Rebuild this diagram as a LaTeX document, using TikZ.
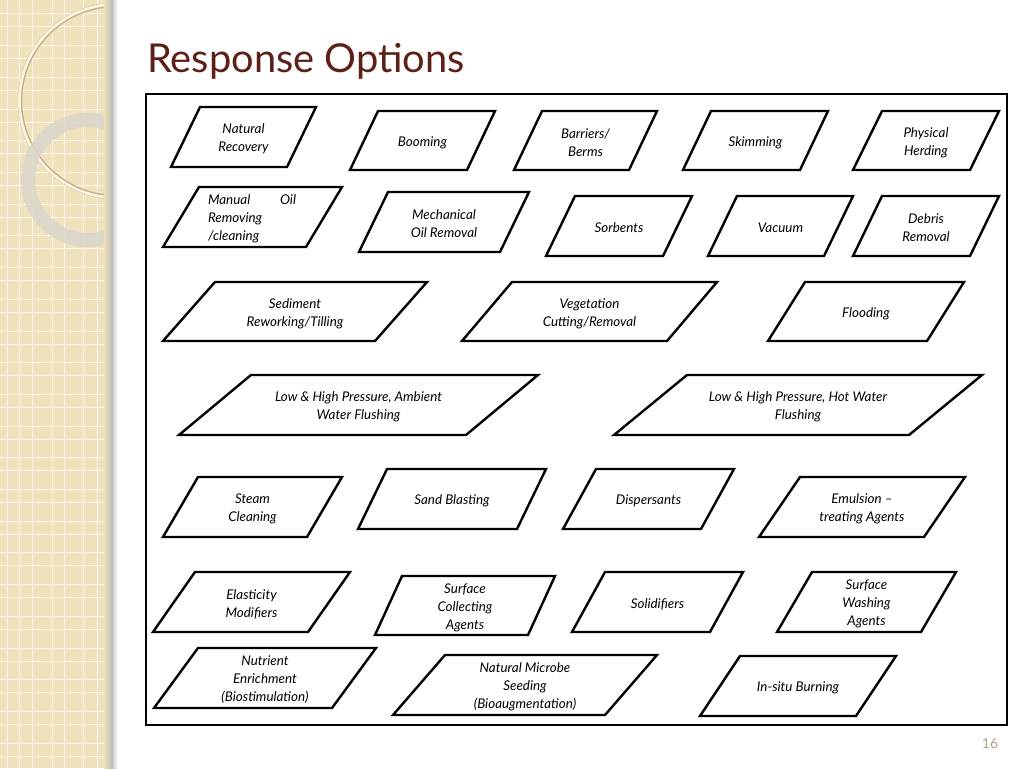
\documentclass[tikz,border=0pt]{standalone}
\usepackage{fontspec}
\setmainfont{Lato}
\definecolor{sidebarbg}{RGB}{240,226,188}
\definecolor{ringcream}{RGB}{248,242,224}
\definecolor{ringedge}{RGB}{196,176,136}
\definecolor{ringgray}{RGB}{218,214,204}
\definecolor{titlebrown}{RGB}{92,32,22}
\definecolor{pagetan}{RGB}{178,164,138}
\tikzset{
  optbox/.style={line width=2.4pt, line join=miter, fill=white},
  opttext/.style={align=center, font=\fontsize{13.4}{18}\selectfont\itshape, inner sep=0pt, yshift=-2pt}
}
\begin{document}
\begin{tikzpicture}[x=1pt, y=-1pt]
  \useasboundingbox (0,0) rectangle (1024,768);
  % 背景
  \fill[white] (0,0) rectangle (1024,768);
  \fill[sidebarbg] (0,0) rectangle (113,768);
  \foreach \x in {7,19,32,52,64,83,97} {
    \draw[white!70!sidebarbg, line width=1pt] (\x,0) -- (\x,768);
  }
  \foreach \k in {0,...,24} {
    \draw[white!70!sidebarbg, line width=1pt] (0,14+31.7*\k) -- (113,14+31.7*\k);
    \draw[white!70!sidebarbg, line width=1pt] (0,27+31.7*\k) -- (113,27+31.7*\k);
  }
  % 円の飾り
  \begin{scope}
    \clip (0,0) rectangle (113,768);
    \draw[ringedge, line width=4.5pt] (116,101) circle (96pt);
    \draw[ringcream, line width=2.8pt] (116,101) circle (96.6pt);
    \draw[ringgray, line width=14pt, opacity=0.85] (88,180) circle (60pt);
  \end{scope}
  \shade[left color=sidebarbg, right color=black!28] (104,0) rectangle (113,768);
  \shade[left color=black!18, right color=white] (113,0) rectangle (118,768);

  % タイトル
  \node[anchor=base west, inner sep=0pt, text=titlebrown, font=\fontsize{39.8}{44}\selectfont] (title) at (147,72) {Response Options};

  % 枠
  \draw[line width=2.6pt] (146,94) rectangle (1007,725);

  % 平行四辺形
  \foreach \nm/\tlx/\trx/\blx/\ty/\by/\txt in {
      nat/200/316/171/107/167/{Natural\\Recovery},
      boom/378/495/350/111/170/{Booming},
      barr/542/657/514/111/170/{Barriers/\\Berms},
      skim/711/828/683/111/170/{Skimming},
      herd/882/999/853/111/170/{Physical\\Herding},
      mech/388/529/359/192/252/{Mechanical\\Oil Removal},
      sorb/575/692/546/196/256/{Sorbents},
      vac/737/853/708/196/256/{Vacuum},
      debris/882/999/853/196/256/{Debris\\Removal},
      sed/215/427/163/282/341/{Sediment\\Reworking/Tilling},
      veg/512/717/462/282/341/{Vegetation\\Cutting/Removal},
      flood/805/964/768/282/341/{Flooding},
      ambient/251/538/179/375/435/{Low \& High Pressure, Ambient\\Water Flushing},
      hot/687/982/614/375/435/{Low \& High Pressure, Hot Water\\Flushing},
      steam/198/342/163/477/537/{Steam\\Cleaning},
      sand/387/546/358/469/529/{Sand Blasting},
      disp/596/734/563/469/529/{Dispersants},
      emul/800/965/759/477/537/{Emulsion \textendash\\treating Agents},
      elast/195/350/153/572/632/{Elasticity\\Modifiers},
      scoll/402/555/375/576/635/{Surface\\Collecting\\Agents},
      solid/605/743/572/572/632/{Solidifiers},
      swash/812/956/777/572/632/{Surface\\Washing\\Agents},
      nutr/198/376/154/648/708/{Nutrient\\Enrichment\\(Biostimulation)},
      microbe/445/657/393/655/715/{Natural Microbe\\Seeding\\(Bioaugmentation)},
      burn/740/896/700/656/716/{In-situ Burning}} {
    \draw[optbox] (\tlx,\ty) -- (\trx,\ty) -- ({\trx-\tlx+\blx},\by) -- (\blx,\by) -- cycle;
    \node[opttext] (\nm) at ({(\trx+\blx)/2},{(\ty+\by)/2}) {\txt};
  }
  % 左寄せの一つ
  \draw[optbox] (199,187) -- (342,187) -- (306,247) -- (163,247) -- cycle;
  \node[opttext, align=left] (manual) at (252,217) {\makebox[88pt][s]{Manual\hfill Oil}\\Removing\\/cleaning};

  % ページ番号
  \node[text=pagetan, font=\fontsize{14}{16}\selectfont, inner sep=0pt] (pgnum) at (990,744) {16};
\end{tikzpicture}
\end{document}
